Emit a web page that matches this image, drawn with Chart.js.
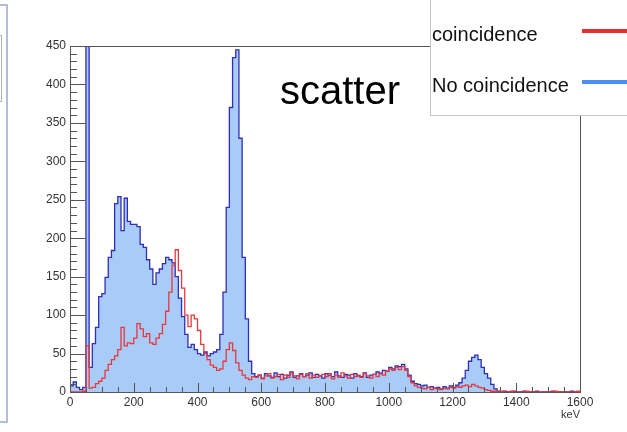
<!DOCTYPE html>
<html>
<head>
<meta charset="utf-8">
<script src="https://cdn.jsdelivr.net/npm/chart.js@4.4.0/dist/chart.umd.min.js"></script>
<style>
  html, body { margin: 0; padding: 0; background: #fff; overflow: hidden; }
  #wrap { position: relative; width: 627px; height: 432px; }
</style>
</head>
<body>
<div id="wrap"><canvas id="c" width="627" height="432"></canvas></div>
<script>
// Energy spectrum, 10 keV bins starting at 0 keV
const binWidth = 10;

const noCoincidence = [
  8, 13, 6, 3, 6, 900, 32, 63, 84, 124,
  128, 149, 175, 184, 245, 254, 210, 252, 222, 218,
  218, 215, 192, 188, 172, 160, 140, 155, 160, 167,
  175, 172, 168, 150, 122, 98, 75, 58, 62, 55,
  50, 48, 52, 47, 50, 52, 55, 75, 130, 240,
  370, 435, 445, 330, 175, 95, 40, 24, 20, 22,
  18, 24, 21, 19, 25, 20, 23, 18, 22, 26,
  19, 21, 24, 20, 22, 25, 19, 23, 21, 18,
  24, 22, 20, 26, 21, 19, 23, 22, 18, 24,
  21, 20, 25, 19, 22, 23, 26, 24, 28, 27,
  32, 30, 34, 33, 36, 30, 22, 14, 11, 10,
  8, 9, 6, 7, 5, 6, 4, 7, 5, 8,
  6, 9, 12, 18, 28, 40, 45, 48, 42, 32,
  24, 18, 10, 4, 1, 0, 1, 0, 0, 1,
  0, 0, 1, 0, 0, 0, 1, 0, 0, 0,
  0, 1, 0, 0, 0, 0, 0, 1, 0, 0
];

const coincidence = [
  0, 0, 0, 0, 1, 60, 5, 6, 11, 14,
  18, 28, 36, 42, 47, 55, 84, 60, 64, 63,
  70, 89, 82, 72, 76, 64, 62, 70, 76, 88,
  105, 130, 165, 185, 158, 135, 100, 85, 100, 95,
  80, 62, 50, 42, 35, 32, 28, 30, 40, 55,
  64, 54, 38, 28, 22, 18, 16, 20, 19, 22,
  17, 21, 24, 18, 20, 23, 16, 22, 19, 25,
  21, 17, 23, 20, 24, 18, 22, 19, 21, 23,
  20, 24, 17, 22, 19, 25, 21, 18, 23, 20,
  22, 19, 24, 21, 18, 23, 20, 25, 22, 27,
  30, 28, 32, 29, 33, 28, 20, 12, 8, 6,
  5, 4, 6, 3, 5, 4, 3, 5, 4, 6,
  5, 7, 6, 8, 9, 7, 10, 8, 6, 5,
  3, 2, 1, 1, 0, 1, 0, 0, 1, 0,
  0, 0, 0, 1, 0, 0, 0, 0, 0, 0,
  0, 0, 1, 0, 0, 0, 0, 0, 0, 1
];

const xTickValues = [0, 200, 400, 600, 800, 1000, 1200, 1400, 1600];
const yTickValues = [0, 50, 100, 150, 200, 250, 300, 350, 400, 450];
const seriesLabels = ['coincidence', 'No coincidence'];
const titleText = 'scatter';
const xUnit = 'keV';

const FONT = '"Liberation Sans", Arial, Helvetica, sans-serif';

// Histogram as a step line: one point per bin lower edge, plus the closing edge
function toSteps(counts) {
  const pts = counts.map((v, i) => ({ x: i * binWidth, y: v }));
  pts.push({ x: counts.length * binWidth, y: counts[counts.length - 1] });
  return pts;
}

// Frame, inward tick marks, legend box, title and the neighbouring panel edge
const decorations = {
  id: 'decorations',
  beforeDraw(chart) {
    const ctx = chart.ctx;
    ctx.save();
    ctx.strokeStyle = '#9aa6cc';
    ctx.lineWidth = 1.5;
    ctx.strokeRect(-20, 5, 27, 417);
    ctx.strokeStyle = '#b0b0b0';
    ctx.lineWidth = 1;
    ctx.strokeRect(-20, 35.5, 21.5, 66);
    ctx.restore();
  },
  afterDatasetsDraw(chart) {
    const ctx = chart.ctx;
    const a = chart.chartArea;
    const xs = chart.scales.x, ys = chart.scales.y;
    ctx.save();
    ctx.strokeStyle = '#555';
    ctx.lineWidth = 1;
    ctx.strokeRect(Math.round(a.left) + 0.5, Math.round(a.top) + 0.5,
                   Math.round(a.right - a.left), Math.round(a.bottom - a.top));
    ctx.beginPath();
    for (let v = 0; v <= 450; v += 10) {
      const y = Math.round(ys.getPixelForValue(v)) + 0.5;
      const len = v % 50 === 0 ? 15 : 7;
      ctx.moveTo(a.left, y);
      ctx.lineTo(a.left + len, y);
    }
    for (let v = 0; v <= 1600; v += 50) {
      const x = Math.round(xs.getPixelForValue(v)) + 0.5;
      const len = v % 200 === 0 ? 9 : 5;
      ctx.moveTo(x, a.bottom);
      ctx.lineTo(x, a.bottom - len);
    }
    ctx.stroke();

    // title
    ctx.fillStyle = '#000';
    ctx.font = '40px ' + FONT;
    ctx.textBaseline = 'alphabetic';
    ctx.textAlign = 'left';
    ctx.fillText(titleText, 280, 104);

    // legend box
    ctx.fillStyle = '#fff';
    ctx.fillRect(431, -2, 210, 118);
    ctx.strokeStyle = '#c4c4c4';
    ctx.strokeRect(430.5, -2, 220, 117.5);
    ctx.fillStyle = '#111';
    ctx.font = '20px ' + FONT;
    ctx.textBaseline = 'middle';
    ctx.fillText(seriesLabels[0], 432, 35);
    ctx.fillText(seriesLabels[1], 432, 86);
    ctx.lineWidth = 4;
    ctx.strokeStyle = '#e5302e';
    ctx.beginPath(); ctx.moveTo(582, 31); ctx.lineTo(630, 31); ctx.stroke();
    ctx.strokeStyle = '#4a90f0';
    ctx.beginPath(); ctx.moveTo(582, 82); ctx.lineTo(630, 82); ctx.stroke();
    ctx.restore();
  }
};

new Chart(document.getElementById('c'), {
  type: 'line',
  data: {
    datasets: [
      {
        label: seriesLabels[0],
        data: toSteps(coincidence),
        stepped: true,
        borderColor: '#e8383c',
        borderWidth: 1.3,
        pointRadius: 0,
        fill: false
      },
      {
        label: seriesLabels[1],
        data: toSteps(noCoincidence),
        stepped: true,
        borderColor: '#2e2eb8',
        borderWidth: 1.3,
        backgroundColor: '#a8cbf7',
        pointRadius: 0,
        fill: 'origin'
      }
    ]
  },
  options: {
    responsive: false,
    animation: false,
    devicePixelRatio: 1,
    layout: { padding: { left: 0, top: 46, right: 47, bottom: 0 } },
    plugins: { legend: { display: false }, tooltip: { enabled: false } },
    scales: {
      x: {
        type: 'linear',
        min: 0,
        max: 1600,
        afterBuildTicks: s => { s.ticks = xTickValues.map(v => ({ value: v })); },
        afterFit: s => { s.height = 40; },
        grid: { display: false, drawTicks: false },
        border: { display: false },
        ticks: {
          autoSkip: false, maxRotation: 0, padding: 3,
          color: '#333', font: { family: FONT, size: 12 },
          callback: v => String(v)
        },
        title: {
          display: true, text: xUnit, align: 'end', color: '#333',
          font: { family: FONT, size: 11 }, padding: { top: 0, bottom: 10 }
        }
      },
      y: {
        min: 0,
        max: 450,
        afterBuildTicks: s => { s.ticks = yTickValues.map(v => ({ value: v })); },
        afterFit: s => { s.width = 70; },
        grid: { display: false, drawTicks: false },
        border: { display: false },
        ticks: {
          autoSkip: false, padding: 4,
          color: '#333', font: { family: FONT, size: 12 },
          callback: v => String(v)
        }
      }
    }
  },
  plugins: [decorations]
});
</script>
</body>
</html>
